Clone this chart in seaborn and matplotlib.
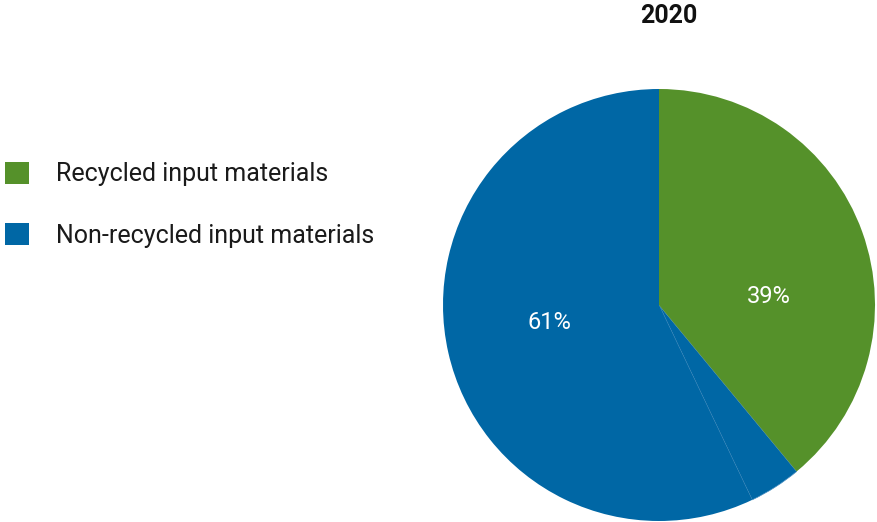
import matplotlib
matplotlib.use("Agg")
import matplotlib.pyplot as plt
from matplotlib.patches import Patch
import seaborn as sns

# Share of input materials, 2020 (%)
categories = ["Recycled input materials", "Non-recycled input materials"]
shares = [39, 61]
# the non-recycled slice is drawn as two adjoining segments
non_recycled_parts = [3.9, 57.1]
year = "2020"

green = "#55912A"
blue = "#0067A5"
colors = [green, blue]

sns.set_theme(style="white")
plt.rcParams["font.family"] = ["Roboto", "DejaVu Sans"]

W, H = 878, 522
fig = plt.figure(figsize=(W / 100, H / 100), dpi=100)

cx, cy, r = 659, 305, 216
ax = fig.add_axes([(cx - r) / W, (H - cy - r) / H, 2 * r / W, 2 * r / H])

wedge_values = [shares[0]] + non_recycled_parts
wedge_colors = [green, blue, blue]
wedges, _ = ax.pie(
    wedge_values,
    colors=wedge_colors,
    startangle=90,
    counterclock=False,
    radius=1,
    wedgeprops=dict(linewidth=0),
)
# faint seam between the two non-recycled segments
wedges[1].set_edgecolor("#4A8EC0")
wedges[1].set_linewidth(0.5)
wedges[0].set_zorder(3)

ax.set_xlim(-1, 1)
ax.set_ylim(-1, 1)
ax.set_aspect("equal")
ax.axis("off")

# percentage labels
ax.text(0.51, 0.04, f"{shares[0]}%", color="white", fontsize=17,
        ha="center", va="center", zorder=5)
ax.text(-0.505, -0.08, f"{shares[1]}%", color="white", fontsize=17,
        ha="center", va="center", zorder=5)

fig.text(669 / W, 1 - 16 / H, year, fontsize=18, fontweight="bold",
         ha="center", va="center", color="#111111")

handles = [Patch(facecolor=c, edgecolor="none") for c in colors]
fig.legend(
    handles, categories,
    loc="upper left",
    bbox_to_anchor=(0.0, 1 - 157 / H),
    frameon=False,
    fontsize=18,
    handlelength=0.96,
    handleheight=0.96,
    handletextpad=1.1,
    labelspacing=1.47,
    borderaxespad=0,
    borderpad=0.2,
    labelcolor="#1a1a1a",
)

fig.savefig("out.png", dpi=100)
